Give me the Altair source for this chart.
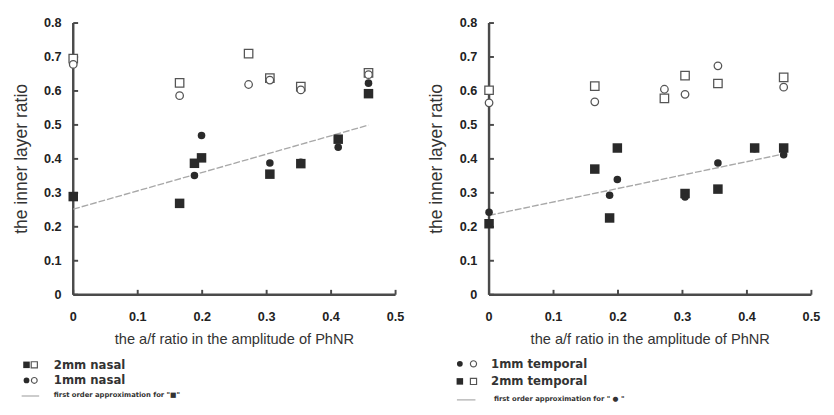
import altair as alt
import pandas as pd

# ---------------- data ----------------
left_x = [0.000, 0.165, 0.188, 0.199, 0.272, 0.305, 0.353, 0.411, 0.458]
left_sq_open = [0.695, 0.624, None, None, 0.710, 0.638, 0.613, None, 0.653]
left_ci_open = [0.678, 0.586, None, None, 0.619, 0.632, 0.603, None, 0.648]
left_sq_fill = [0.289, 0.269, 0.387, 0.403, None, 0.355, 0.386, 0.458, 0.592]
left_ci_fill = [None, None, 0.351, 0.469, None, 0.388, 0.390, 0.434, 0.623]

right_x = [0.000, 0.164, 0.187, 0.199, 0.272, 0.304, 0.355, 0.412, 0.457]
right_ci_open = [0.565, 0.568, None, None, 0.605, 0.590, 0.674, None, 0.611]
right_sq_open = [0.602, 0.614, None, None, 0.578, 0.645, 0.622, None, 0.640]
right_ci_fill = [0.243, None, 0.293, 0.339, None, 0.288, 0.388, 0.430, 0.412]
right_sq_fill = [0.209, 0.370, 0.226, 0.432, None, 0.298, 0.311, 0.432, 0.432]

y_ticks = [0, 0.1, 0.2, 0.3, 0.4, 0.5, 0.6, 0.7, 0.8]
y_tick_labels = ["0", "0.1", "0.2", "0.3", "0.4", "0.5", "0.6", "0.7", "0.8"]
x_ticks = [0, 0.1, 0.2, 0.3, 0.4, 0.5]
x_tick_labels = ["0", "0.1", "0.2", "0.3", "0.4", "0.5"]

x_title = "the a/f ratio in the amplitude of PhNR"
y_title = "the inner layer ratio"
left_legend = ["2mm nasal", "1mm nasal", "first order approximation for \"\u25a0\""]
right_legend = ["1mm temporal", "2mm temporal", "first order approximation for \" \u25cf \""]

W, H = 331, 279
FONT = "Liberation Sans"
LEGFONT = "DejaVu Sans"
DARK = "#2a2a2a"
OPEN = "#555555"
TREND = "#a8a8a8"
AXIS = "#4a4a4a"


def series_df(xs, ys):
    return pd.DataFrame([{"x": a, "y": b} for a, b in zip(xs, ys) if b is not None])


xscale = alt.Scale(domain=[0, 0.5], nice=False)
yscale = alt.Scale(domain=[0, 0.8], nice=False)


def X(f):
    return alt.X(f, type="quantitative", scale=xscale, axis=None)


def Y(f):
    return alt.Y(f, type="quantitative", scale=yscale, axis=None)


def point_layer(df, shape, filled, size):
    if filled:
        m = alt.Chart(df).mark_point(shape=shape, filled=True, size=size, color=DARK, opacity=1)
    else:
        m = alt.Chart(df).mark_point(shape=shape, filled=False, size=size, color=OPEN,
                                     strokeWidth=1.3, fill="white", fillOpacity=1, opacity=1)
    return m.encode(x=X("x"), y=Y("y"))


def one():
    return alt.Data(values=[{"k": 1}])


def leg_sym(shape, filled, size, px, py):
    if filled:
        m = alt.Chart(one()).mark_point(shape=shape, filled=True, size=size, color=DARK, opacity=1)
    else:
        m = alt.Chart(one()).mark_point(shape=shape, filled=False, size=size, color=OPEN, strokeWidth=1.2, opacity=1)
    return m.encode(x=alt.value(px), y=alt.value(py))


def txt(t, px, py, size, weight="bold", align="left", angle=0, color="#333", font=FONT):
    return alt.Chart(one()).mark_text(text=t, align=align, baseline="middle", font=font, angle=angle,
                                      fontSize=size, fontWeight=weight, color=color).encode(
        x=alt.value(px), y=alt.value(py))


def leg_line(px1, px2, py):
    return alt.Chart(one()).mark_rule(color=TREND, strokeWidth=1.2).encode(
        x=alt.value(px1), x2=alt.value(px2), y=alt.value(py))


def axes_layers():
    ydom = alt.Chart(one()).mark_rule(color=AXIS, strokeWidth=2.5).encode(
        x=alt.value(0), y=alt.value(0), y2=alt.value(H))
    xdom = alt.Chart(pd.DataFrame({"a": [0.0], "b": [0.5], "c": [0.0]})).mark_rule(
        color=AXIS, strokeWidth=2.5).encode(x=X("a"), x2="b:Q", y=Y("c"))
    ydf = pd.DataFrame({"v": y_ticks, "lab": y_tick_labels})
    xdf = pd.DataFrame({"v": x_ticks, "lab": x_tick_labels})
    yt = alt.Chart(ydf).mark_rule(color=AXIS, strokeWidth=2).encode(
        y=Y("v"), x=alt.value(0), x2=alt.value(5))
    xt = alt.Chart(xdf).mark_rule(color=AXIS, strokeWidth=2).encode(
        x=X("v"), y=alt.value(H), y2=alt.value(H - 5))
    ylab = alt.Chart(ydf).mark_text(align="right", baseline="middle", font=FONT, fontSize=13,
                                    fontWeight="bold", color="#222").encode(
        y=Y("v"), x=alt.value(-12), text="lab:N")
    xlab = alt.Chart(xdf).mark_text(align="center", baseline="middle", font=FONT, fontSize=13,
                                    fontWeight="bold", color="#222").encode(
        x=X("v"), y=alt.value(H + 23), text="lab:N")
    ytitle = txt(y_title, -53, H / 2, 18, weight="normal", align="center", angle=270)
    xtitle = txt(x_title, W / 2, H + 46, 15, weight="normal", align="center")
    return [ydom, xdom, yt, xt, ylab, xlab, ytitle, xtitle]


def panel(xs, sq_open, ci_open, sq_fill, ci_fill, trend_df, legend_layers):
    trend = alt.Chart(trend_df).transform_regression("x", "y").mark_line(
        color=TREND, strokeWidth=1.4, strokeDash=[7, 2]).encode(x=X("x"), y=Y("y"))
    layers = axes_layers() + [
        trend,
        point_layer(series_df(xs, sq_open), "square", False, 75),
        point_layer(series_df(xs, ci_open), "circle", False, 60),
        point_layer(series_df(xs, sq_fill), "square", True, 95),
        point_layer(series_df(xs, ci_fill), "circle", True, 60),
    ] + legend_layers
    return alt.layer(*layers).properties(width=W, height=H)


left_leg = [
    leg_sym("square", True, 45, -48, 351), leg_sym("square", False, 40, -40, 351),
    txt(left_legend[0], -20, 351, 12, font=LEGFONT),
    leg_sym("circle", True, 35, -48, 367), leg_sym("circle", False, 35, -40, 367),
    txt(left_legend[1], -20, 367, 12, font=LEGFONT),
    leg_line(-53, -35, 383), txt(left_legend[2], -20, 382, 7, font=LEGFONT),
]
right_leg = [
    leg_sym("circle", True, 35, -30, 350), leg_sym("circle", False, 40, -16, 350),
    txt(right_legend[0], 2, 350, 12, font=LEGFONT),
    leg_sym("square", True, 45, -30, 368), leg_sym("square", False, 40, -16, 368),
    txt(right_legend[1], 2, 368, 12, font=LEGFONT),
    leg_line(-33, -14, 387), txt(right_legend[2], 5, 386, 7, font=LEGFONT),
]

left = panel(left_x, left_sq_open, left_ci_open, left_sq_fill, left_ci_fill,
             series_df(left_x, left_sq_fill), left_leg)
right = panel(right_x, right_sq_open, right_ci_open, right_sq_fill, right_ci_fill,
              series_df(right_x, right_ci_fill), right_leg)

chart = alt.hconcat(left, right, spacing=24).configure_view(stroke=None).properties(
    padding={"left": 5, "top": 4, "right": 5, "bottom": 5}, background="white")

chart.save("out.html", embed_options={"renderer": "svg", "actions": False})
